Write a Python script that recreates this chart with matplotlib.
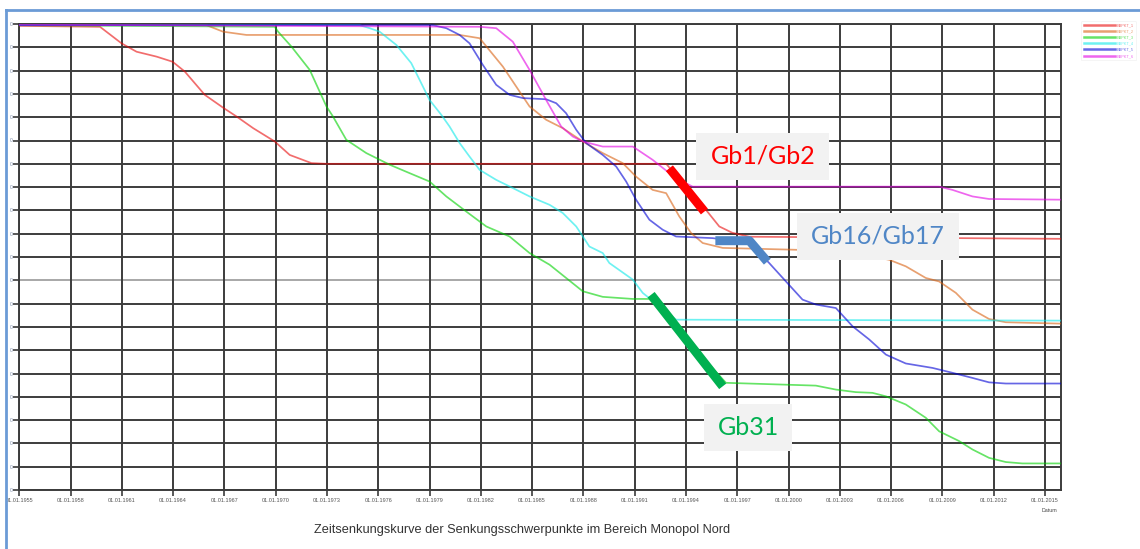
import matplotlib
matplotlib.use("Agg")
import matplotlib.pyplot as plt
from matplotlib.patches import Rectangle
from matplotlib.lines import Line2D

# ---------------- data (decimal years, settlement values) ----------------
names = ["BBPKT_1", "BBPKT_2", "BBPKT_3", "BBPKT_4", "BBPKT_5", "BBPKT_6"]
colors = ["#e90c0c", "#d96111", "#00d200", "#0de9e9", "#0000d5", "#e300e3"]

red_x = [1955.0, 1959.72, 1960.98, 1961.86, 1963.03, 1963.97, 1964.68, 1965.85, 1966.96,
         1967.71, 1968.68, 1969.94, 1970.82, 1972.09, 1972.97, 1992.84, 1995.25, 1995.95,
         1996.71, 1997.71, 2015.94]
red_y = [-0.08, -0.12, -0.83, -1.19, -1.40, -1.62, -2.04, -3.04, -3.61,
         -3.97, -4.47, -5.04, -5.62, -5.97, -6.0, -6.0, -8.05, -8.69,
         -8.96, -9.13, -9.22]

orange_x = [1955.0, 1965.95, 1966.92, 1968.29, 1980.76, 1981.93, 1983.29, 1984.85, 1985.82,
            1986.79, 1987.96, 1989.13, 1990.30, 1991.08, 1992.05, 1992.84, 1993.61, 1994.30,
            1994.98, 1996.15, 2000.44, 2003.55, 2005.89, 2006.86, 2008.03, 2008.81, 2009.79,
            2010.76, 2011.73, 2012.71, 2015.94]
orange_y = [-0.05, -0.05, -0.33, -0.47, -0.47, -0.61, -1.83, -3.54, -4.11,
            -4.47, -5.04, -5.54, -5.97, -6.55, -7.12, -7.26, -8.26, -8.97,
            -9.40, -9.61, -9.69, -9.77, -10.12, -10.40, -10.90, -11.05, -11.54,
            -12.26, -12.66, -12.80, -12.86]

green_x = [1955.0, 1969.94, 1970.14, 1970.92, 1971.99, 1972.97, 1973.35, 1974.13, 1975.30,
           1976.67, 1977.83, 1979.00, 1979.98, 1981.15, 1982.32, 1983.68, 1984.85, 1986.02,
           1986.99, 1987.96, 1989.13, 1990.89, 1991.86, 1996.34, 2001.60, 2002.77, 2003.94,
           2004.91, 2005.70, 2006.86, 2008.03, 2008.81, 2009.98, 2010.76, 2011.73, 2012.71,
           2013.68, 2015.94]
green_y = [-0.05, -0.12, -0.33, -0.97, -1.97, -3.54, -3.97, -4.97, -5.54,
           -6.04, -6.40, -6.76, -7.40, -8.05, -8.69, -9.12, -9.83, -10.33,
           -10.90, -11.47, -11.71, -11.80, -11.80, -15.40, -15.52, -15.69, -15.80,
           -15.83, -15.98, -16.33, -16.90, -17.48, -17.90, -18.26, -18.62, -18.80,
           -18.86, -18.86]

cyan_x = [1955.0, 1974.91, 1975.50, 1976.08, 1977.06, 1977.93, 1978.42, 1979.00, 1979.69,
          1980.17, 1980.76, 1981.34, 1981.93, 1982.90, 1983.87, 1984.85, 1986.02, 1986.79,
          1987.58, 1988.35, 1989.13, 1989.52, 1990.89, 1991.47, 1993.42, 2015.94]
cyan_y = [-0.05, -0.05, -0.18, -0.33, -0.90, -1.68, -2.40, -3.26, -3.90,
          -4.40, -5.11, -5.69, -6.26, -6.69, -7.04, -7.40, -7.76, -8.11,
          -8.69, -9.55, -9.83, -10.26, -10.97, -11.54, -12.69, -12.73]

blue_x = [1955.0, 1979.20, 1979.98, 1980.76, 1981.34, 1982.12, 1982.90, 1983.68, 1984.46,
          1985.82, 1986.41, 1986.99, 1987.58, 1988.16, 1989.13, 1989.92, 1990.50, 1991.08,
          1991.86, 1992.64, 1993.42, 1995.56, 1997.71, 1998.87, 1999.85, 2000.82, 2001.60,
          2002.77, 2003.74, 2004.72, 2005.70, 2006.86, 2008.42, 2009.59, 2010.76, 2011.73,
          2012.71, 2015.94]
blue_y = [-0.05, -0.05, -0.18, -0.47, -0.83, -1.76, -2.61, -3.04, -3.18,
          -3.23, -3.40, -3.83, -4.54, -5.11, -5.62, -6.12, -6.76, -7.54,
          -8.40, -8.83, -9.12, -9.19, -9.39, -10.26, -11.05, -11.83, -12.04,
          -12.19, -12.97, -13.54, -14.19, -14.57, -14.76, -14.97, -15.19, -15.38,
          -15.43, -15.43]

magenta_x = [1955.0, 1981.93, 1982.90, 1983.87, 1984.85, 1985.82, 1986.70, 1987.38, 1987.96,
             1989.13, 1990.89, 1992.05, 1993.03, 1993.81, 1994.39, 2008.81, 2009.59, 2010.76,
             2011.73, 2015.94]
magenta_y = [-0.03, -0.12, -0.18, -0.76, -1.97, -3.26, -4.40, -4.83, -5.04,
             -5.26, -5.26, -5.83, -6.40, -6.76, -6.98, -6.98, -7.12, -7.40,
             -7.51, -7.54]

series_x = [red_x, orange_x, green_x, cyan_x, blue_x, magenta_x]
series_y = [red_y, orange_y, green_y, cyan_y, blue_y, magenta_y]

tick_years = list(range(1955, 2016, 3))
tick_labels = ["01.01.%d" % y for y in tick_years]
y_ticks = list(range(0, -21, -1))

# annotations: thick marker lines and labels
ann_labels = ["Gb1/Gb2", "Gb16/Gb17", "Gb31"]
ann_colors = ["#ff0000", "#4f86c6", "#00b050"]
ann_line_x = [[1993.03, 1995.08], [1995.72, 1997.71, 1998.76], [1991.96, 1996.15]]
ann_line_y = [[-6.19, -8.05], [-9.30, -9.30, -10.20], [-11.62, -15.55]]
ann_box = [(1994.61, 2002.38, -4.67, -6.69),   # x0, x1, ytop, ybottom
           (2000.51, 2009.98, -8.11, -10.11),
           (1995.08, 2000.22, -16.33, -18.33)]

# ---------------- figure ----------------
W, H = 1140, 549
fig = plt.figure(figsize=(W / 100, H / 100), dpi=100)
ax = fig.add_axes([19.3 / W, 1 - 490 / H, (1061 - 19.3) / W, (490 - 24) / H])

ax.set_xlim(1955, 2015.94)
ax.set_ylim(-20, 0)

grid_c = "#3c3c3c"
for yy in y_ticks:
    c = "#a8a8a8" if yy == -11 else grid_c
    ax.axhline(yy, color=c, lw=1.4, zorder=1)
for xx in tick_years:
    ax.axvline(xx, color=grid_c, lw=1.4, zorder=1)

for sp in ax.spines.values():
    sp.set_color(grid_c)
    sp.set_linewidth(1.4)

for xs, ys, c, n in zip(series_x, series_y, colors, names):
    ax.plot(xs, ys, color=c, lw=1.25, alpha=0.6, label=n, zorder=3, solid_joinstyle="round")

ax.set_xticks(tick_years)
ax.set_xticklabels(tick_labels, fontsize=4.0, color="#555555", family="Liberation Sans")
ax.set_yticks(y_ticks)
ax.set_yticklabels(["0"] * len(y_ticks), fontsize=3.6, color="#7a8aa8", family="Liberation Sans")
ax.tick_params(axis="x", length=4, width=1.2, color=grid_c, pad=2)
ax.tick_params(axis="y", length=4, width=1.2, color=grid_c, pad=1)

# annotation boxes and markers
for lab, c, lx, ly, (x0, x1, yt, yb) in zip(ann_labels, ann_colors, ann_line_x, ann_line_y, ann_box):
    ax.add_patch(Rectangle((x0, yb), x1 - x0, yt - yb, facecolor="#f2f2f2",
                           edgecolor="none", zorder=5))
    ax.text((x0 + x1) / 2, (yt + yb) / 2, lab, color=c, fontsize=18, family="Lato",
            ha="center", va="center", zorder=6)
    ax.plot(lx, ly, color=c, lw=6.5, solid_capstyle="butt", zorder=7)

# legend
leg = fig.legend(loc="upper right", bbox_to_anchor=(1138 / W, 1 - 19 / H),
                 handlelength=8.0, labelspacing=0.55, frameon=True, borderpad=0.6,
                 handletextpad=0.5, prop={"family": "Liberation Sans", "size": 2.8})
leg.get_frame().set_edgecolor("#eeeeee")
leg.get_frame().set_linewidth(0.5)
for t, c in zip(leg.get_texts(), colors):
    t.set_color(c)
    t.set_alpha(0.6)
for h in leg.legend_handles:
    h.set_linewidth(1.8)

fig.text(1050 / W, 1 - 510 / H, "Datum", fontsize=3.8, color="#444444",
         ha="center", va="center", family="Liberation Sans")
fig.text(522 / W, 1 - 530 / H,
         "Zeitsenkungskurve der Senkungsschwerpunkte im Bereich Monopol Nord",
         fontsize=9.2, color="#333333", ha="center", va="center", family="Liberation Sans")

# screenshot border
fig.add_artist(Line2D([6 / W, 6 / W], [0, 1 - 10 / H], transform=fig.transFigure,
                      color="#6b9bd6", lw=2.0))
fig.add_artist(Line2D([6 / W, 1], [1 - 10 / H, 1 - 10 / H], transform=fig.transFigure,
                      color="#6b9bd6", lw=2.0))

fig.savefig("out.png", dpi=100)
